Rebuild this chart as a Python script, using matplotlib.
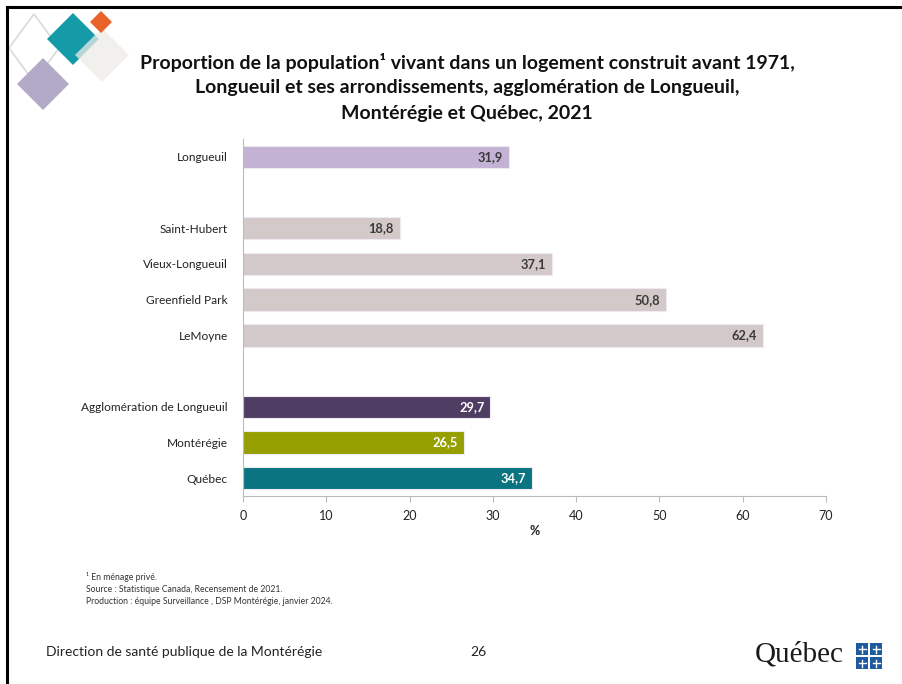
import matplotlib
matplotlib.use("Agg")
import matplotlib.pyplot as plt
from matplotlib.patches import Polygon, Rectangle
from matplotlib.lines import Line2D

plt.rcParams['font.family'] = ['Lato', 'DejaVu Sans']

categories = ["Longueuil", "", "Saint-Hubert", "Vieux-Longueuil", "Greenfield Park",
              "LeMoyne", "", "Agglomération de Longueuil", "Montérégie", "Québec"]
values = [31.9, None, 18.8, 37.1, 50.8, 62.4, None, 29.7, 26.5, 34.7]
colors = ["#C3B2D3", None, "#D3C9C9", "#D3C9C9", "#D3C9C9", "#D3C9C9", None,
          "#4F3D63", "#95A000", "#0A7480"]
label_colors = ["#3a3a3a", None, "#3a3a3a", "#3a3a3a", "#3a3a3a", "#3a3a3a", None,
                "white", "white", "white"]
xticks = [0, 10, 20, 30, 40, 50, 60, 70]

W, H = 902, 684
fig = plt.figure(figsize=(W / 100, H / 100), dpi=100)

def fx(px):
    return px / W

def fy(py):
    return 1 - py / H

# slide frame (top and left edges)
fig.add_artist(Line2D([fx(7), fx(902)], [fy(7), fy(7)], color="black", lw=2.2))
fig.add_artist(Line2D([fx(7), fx(7)], [fy(7), fy(684)], color="black", lw=2.2))

# decorative diamonds
def diamond(cx, cy, hx, hy, **kw):
    pts = [(fx(cx - hx), fy(cy)), (fx(cx), fy(cy - hy)), (fx(cx + hx), fy(cy)), (fx(cx), fy(cy + hy))]
    fig.add_artist(Polygon(pts, closed=True, transform=fig.transFigure, **kw))

diamond(34, 48, 25, 34, facecolor="none", edgecolor="#D5DDD5", lw=1.2)
diamond(43, 84, 26, 26, facecolor="#B3AAC8", edgecolor="none")
diamond(73, 39, 26, 26, facecolor="#159AA8", edgecolor="none")
diamond(102, 55, 27, 27, facecolor="#EDEBE8", edgecolor="none", alpha=0.75)
diamond(101, 22, 11, 11, facecolor="#E8622A", edgecolor="none")

# title
title_lines = ["Proportion de la population¹ vivant dans un logement construit avant 1971,",
               "Longueuil et ses arrondissements, agglomération de Longueuil,",
               "Montérégie et Québec, 2021"]
for i, t in enumerate(title_lines):
    fig.text(fx(467), fy(62 + i * 25.5), t, ha="center", va="center",
             fontsize=14, fontweight="bold", color="#111111")

ax = fig.add_axes([fx(243), fy(496), fx(826) - fx(243), fy(139) - fy(496)])
ypos = list(range(len(categories)))
for y, v, c, lc in zip(ypos, values, colors, label_colors):
    if v is None:
        continue
    ax.barh(y, v, height=0.63, color=c, edgecolor="#EEEAF2", linewidth=0.8)
    ax.text(v - 0.7, y, f"{v:.1f}".replace(".", ","), ha="right", va="center",
            fontsize=9.3, fontweight="bold", color=lc)

ax.set_ylim(len(categories) - 0.5, -0.5)
ax.set_xlim(0, 70)
ax.set_yticks([y for y, c in zip(ypos, categories) if c])
ax.set_yticklabels([c for c in categories if c], fontsize=8.6, color="#222222")
ax.tick_params(axis="y", length=0, pad=11)
ax.set_xticks(xticks)
ax.set_xticklabels([str(t) for t in xticks], fontsize=9, color="#222222")
ax.tick_params(axis="x", length=4, color="#BBBBBB", width=0.8, pad=6)
for s in ["top", "right"]:
    ax.spines[s].set_visible(False)
ax.spines["left"].set_color("#BBBBBB")
ax.spines["bottom"].set_color("#BBBBBB")
ax.spines["left"].set_linewidth(0.8)
ax.spines["bottom"].set_linewidth(0.8)
ax.set_xlabel("%", fontsize=9, fontweight="bold", color="#222222", labelpad=2)

# footnotes
notes = ["¹ En ménage privé.",
         "Source : Statistique Canada, Recensement de 2021.",
         "Production : équipe Surveillance , DSP Montérégie, janvier 2024."]
for i, n in enumerate(notes):
    fig.text(fx(86), fy(577 + i * 12), n, ha="left", va="center", fontsize=6.2, color="#333333")

# footer
fig.text(fx(46), fy(652), "Direction de santé publique de la Montérégie", ha="left", va="center",
         fontsize=10, color="#222222")
fig.text(fx(478), fy(652), "26", ha="center", va="center", fontsize=10, color="#222222")
fig.text(fx(755), fy(654), "Québec", ha="left", va="center", fontsize=21,
         family=["Liberation Serif", "DejaVu Serif"], color="#1a1a1a")

# flag blocks
bx0, by0, bs, gap = 856, 643, 12, 2
for i in range(2):
    for j in range(2):
        x0 = bx0 + i * (bs + gap)
        y0 = by0 + j * (bs + gap)
        fig.add_artist(Rectangle((fx(x0), fy(y0 + bs)), fx(bs), bs / H,
                                 transform=fig.transFigure, facecolor="#1E5AA0", edgecolor="none"))
        fig.add_artist(Line2D([fx(x0 + bs / 2)] * 2, [fy(y0 + 2.5), fy(y0 + bs - 2.5)],
                              color="white", lw=1.0))
        fig.add_artist(Line2D([fx(x0 + 2.5), fx(x0 + bs - 2.5)], [fy(y0 + bs / 2)] * 2,
                              color="white", lw=1.0))

fig.savefig("out.png", dpi=100)
